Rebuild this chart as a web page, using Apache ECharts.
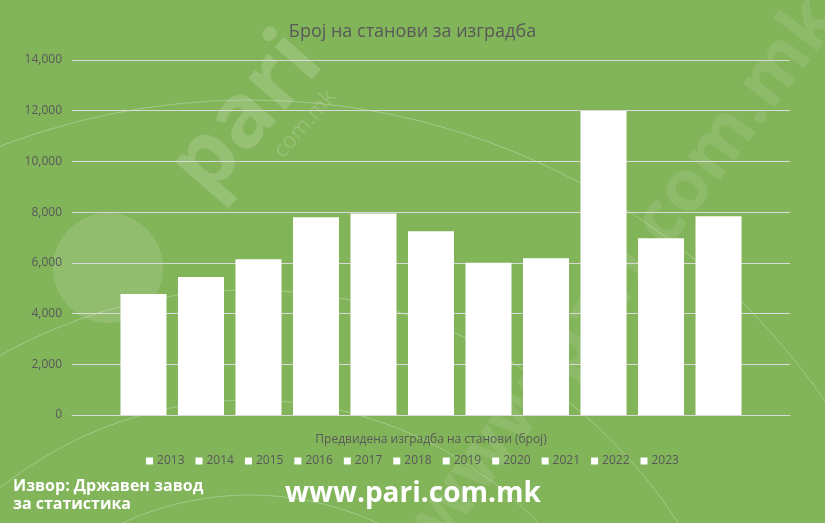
<!DOCTYPE html>
<html>
<head>
<meta charset="utf-8">
<script src="https://cdn.jsdelivr.net/npm/echarts@6/dist/echarts.min.js"></script>
<style>
  html, body { margin: 0; padding: 0; background: #82B45A; }
  #chart { width: 825px; height: 523px; }
</style>
</head>
<body>
<div id="chart"></div>
<script>
// години (секоја година е посебна серија, како во легендата)
const years = ['2013', '2014', '2015', '2016', '2017', '2018', '2019', '2020', '2021', '2022', '2023'];
// број на станови за изградба
const flats = [4770, 5440, 6140, 7800, 7950, 7250, 6000, 6180, 11990, 6970, 7840];
const category = ['Предвидена изградба на станови (број)'];
const yTicks = { min: 0, max: 14000, interval: 2000 };

const grey = '#595959';
const font = '"Open Sans", "Noto Sans", sans-serif';
const wm = 'rgba(255,255,255,0.16)';
const deg = Math.PI / 180;

const chart = echarts.init(document.getElementById('chart'));

const series = years.map((y, i) => ({
  name: y,
  type: 'bar',
  data: [flats[i]],
  barGap: '25%',
  barCategoryGap: '13.5%',
  itemStyle: { color: '#FFFFFF' },
  silent: true
}));

// воден жиг во позадина
const rings = [700, 510, 400, 305].map(r => ({
  type: 'circle', z: -1, silent: true,
  shape: { cx: 250, cy: 800, r: r },
  style: { fill: null, stroke: 'rgba(255,255,255,0.28)', lineWidth: 1 }
}));

const option = {
  backgroundColor: '#82B45A',
  animation: false,
  title: {
    text: 'Број на станови за изградба',
    left: 'center',
    top: 18,
    textStyle: { color: grey, fontSize: 18, fontWeight: 'normal', fontFamily: font }
  },
  grid: { left: 72, right: 35, top: 60, bottom: 108 },
  xAxis: {
    type: 'category',
    data: [''],
    axisLine: { lineStyle: { color: '#D9D9D9', width: 1 } },
    axisTick: { show: false },
    axisLabel: { show: false },
    name: category[0],
    nameLocation: 'middle',
    nameGap: 19,
    nameTextStyle: { color: grey, fontSize: 12, fontFamily: font }
  },
  yAxis: {
    type: 'value',
    min: yTicks.min,
    max: yTicks.max,
    interval: yTicks.interval,
    axisLine: { show: false },
    axisTick: { show: false },
    axisLabel: {
      color: grey, fontSize: 12, fontFamily: font, margin: 10,
      formatter: v => v.toLocaleString('en-US')
    },
    splitLine: { lineStyle: { color: '#D9D9D9', width: 1 } }
  },
  legend: {
    data: years,
    bottom: 51,
    left: 'center',
    itemWidth: 7,
    itemHeight: 7,
    itemGap: 11,
    icon: 'rect',
    textStyle: { color: grey, fontSize: 12, fontFamily: font, padding: [0, 0, 0, -1] }
  },
  graphic: rings.concat([
    {
      type: 'circle', z: -1, silent: true,
      shape: { cx: 108, cy: 268, r: 55 },
      style: { fill: 'rgba(255,255,255,0.13)' }
    },
    {
      type: 'text', z: -1, silent: true, x: 247, y: 115, rotation: 49 * deg,
      style: { text: 'pari', fill: wm, font: 'bold 90px ' + font, align: 'center', verticalAlign: 'middle' }
    },
    {
      type: 'text', z: -1, silent: true, x: 305, y: 124, rotation: 49 * deg,
      style: { text: 'com.mk', fill: wm, font: '22px ' + font, align: 'center', verticalAlign: 'middle' }
    },
    {
      type: 'text', z: -1, silent: true, x: 626, y: 270, rotation: 53 * deg,
      style: { text: 'www.pari.com.mk', fill: 'rgba(255,255,255,0.1)', font: 'bold 72px ' + font, align: 'center', verticalAlign: 'middle' }
    },
    {
      type: 'text', left: 13, top: 477,
      style: {
        text: 'Извор: Државен завод\nза статистика',
        fill: '#FFFFFF', font: 'bold 16px ' + font, lineHeight: 18
      }
    },
    {
      type: 'text', left: 285, top: 480,
      style: { text: 'www.pari.com.mk', fill: '#FFFFFF', font: 'bold 28px ' + font }
    }
  ]),
  series: series
};

chart.setOption(option);
</script>
</body>
</html>
